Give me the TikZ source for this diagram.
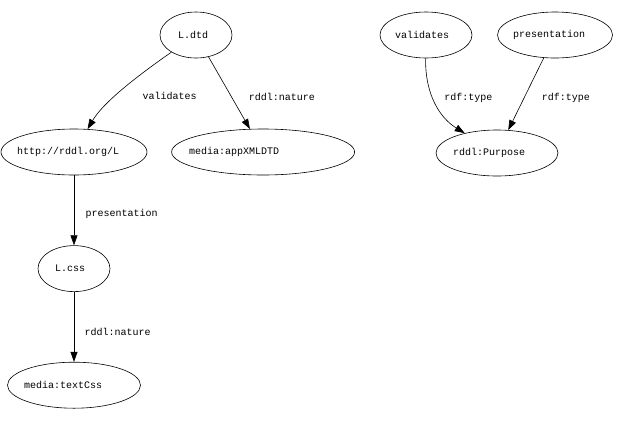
\documentclass[tikz,border=0pt]{standalone}
\usepackage{fontspec}
\setmonofont{Liberation Mono}
\usetikzlibrary{positioning, shapes.geometric, arrows.meta}

% node text set from a left offset, as in the drawing
\newcommand{\ntext}[2]{\makebox[0pt][l]{\hspace*{-#1}\raisebox{-2pt}{#2}}}

\begin{document}
\begin{tikzpicture}[x=1pt, y=-1pt, node distance=70pt, >={Triangle[length=10pt, width=7pt]},
        every node/.style={font=\ttfamily\fontsize{10}{12}\selectfont},
        rnode/.style={draw, semithick, ellipse, inner sep=0pt, minimum height=46pt}]
        \useasboundingbox (0,0) rectangle (634,424);

        \node[rnode, minimum width=72pt] (dtd) at (196,35) {\ntext{18pt}{L.dtd}};
        \node[rnode, minimum width=146pt] (http) at (74,152) {\ntext{57pt}{http://rddl.org/L}};
        \node[rnode, minimum width=183pt] (app) [right=24pt of http] {\ntext{74pt}{media:appXMLDTD}};
        \node[rnode, minimum width=72pt] (css) [below=of http] {\ntext{19pt}{L.css}};
        \node[rnode, minimum width=133pt] (textcss) [below=of css] {\ntext{50pt}{media:textCss}};
        \node[rnode, minimum width=92pt] (validates) at (426,35) {\ntext{31pt}{validates}};
        \node[rnode, minimum width=115pt] (presentation) at (555,35) {\ntext{42pt}{presentation}};
        \node[rnode, minimum width=122pt] (purpose) at (497,153) {\ntext{44pt}{rddl:Purpose}};

        \draw[->, semithick] (dtd) .. controls (120,88) and (100,108) .. node[pos=.5, right=24pt] {validates} (http);
        \draw[->, semithick] (dtd) -- node[pos=.55, right=14pt] {rddl:nature} (app);
        \draw[->, semithick] (http) -- node[pos=.55, right=8pt] {presentation} (css);
        \draw[->, semithick] (css) -- node[pos=.57, right=7pt] {rddl:nature} (textcss);
        \draw[->, semithick] (validates) .. controls (425,95) and (440,118) .. node[pos=.42, right=8pt] {rdf:type} (purpose);
        \draw[->, semithick] (presentation) -- node[pos=.55, right=14pt] {rdf:type} (purpose);
    \end{tikzpicture}
\end{document}
